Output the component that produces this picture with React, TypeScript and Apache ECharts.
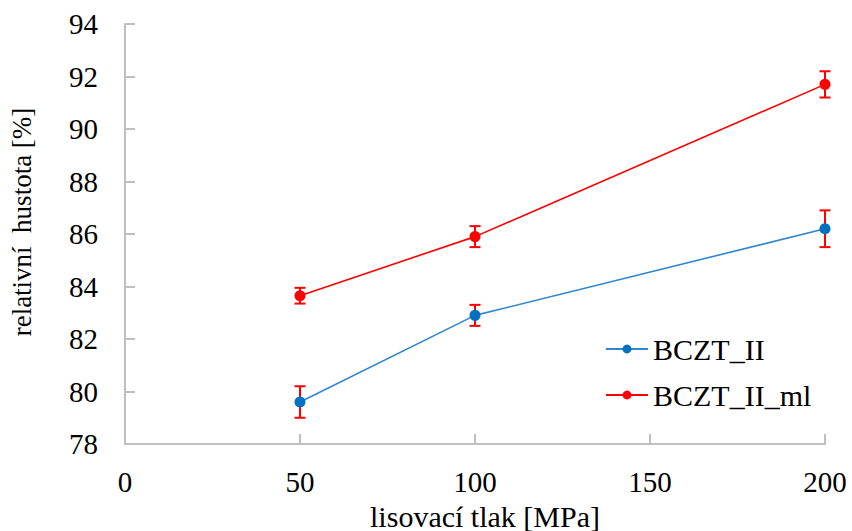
import React, { useEffect, useRef } from "react";
import * as echarts from "echarts";

const pressures = [50, 100, 200];
const bcztII = [79.6, 82.9, 86.2];
const bcztIIErr = [0.6, 0.4, 0.7];
const bcztIIml = [83.65, 85.9, 91.7];
const bcztIImlErr = [0.3, 0.4, 0.5];
const xTitle = "lisovací tlak [MPa]";
const yTitle = "relativní  hustota [%]";
const seriesNames = ["BCZT_II", "BCZT_II_ml"];

const FONT = "Liberation Serif";

function errData(vals: number[], errs: number[]) {
  return pressures.map((p, i) => [p, vals[i] - errs[i], vals[i] + errs[i]]);
}

export default function App() {
  const ref = useRef<HTMLDivElement>(null);
  useEffect(() => {
    if (!ref.current) return;
    const chart = echarts.init(ref.current, undefined, { renderer: "svg" });
    const renderErr = (params: any, api: any) => {
      const x = api.value(0);
      const lo = api.coord([x, api.value(1)]);
      const hi = api.coord([x, api.value(2)]);
      const w = 5.5;
      const style = { stroke: "#ff0000", lineWidth: 2 };
      return {
        type: "group",
        children: [
          { type: "line", shape: { x1: lo[0], y1: lo[1], x2: hi[0], y2: hi[1] }, style },
          { type: "line", shape: { x1: lo[0] - w, y1: lo[1], x2: lo[0] + w, y2: lo[1] }, style },
          { type: "line", shape: { x1: hi[0] - w, y1: hi[1], x2: hi[0] + w, y2: hi[1] }, style },
        ],
      };
    };
    const txt = { fontFamily: FONT, fontSize: 29, color: "#000" };
    chart.setOption({
      animation: false,
      backgroundColor: "#ffffff",
      textStyle: { fontFamily: FONT },
      grid: { left: 125, right: 27, top: 24, bottom: 87, containLabel: false, outerBoundsMode: "none" },
      graphic: [
        {
          type: "text",
          x: 22,
          y: 222,
          rotation: Math.PI / 2,
          style: {
            text: yTitle,
            fontFamily: FONT,
            fontSize: 27,
            fill: "#000",
            align: "center",
            verticalAlign: "middle",
          },
        },
      ],
      legend: {
        data: seriesNames,
        orient: "vertical",
        left: 600,
        top: 329,
        itemWidth: 42,
        itemHeight: 11,
        itemGap: 16,
        textStyle: { fontFamily: FONT, fontSize: 30, color: "#000" },
      },
      xAxis: {
        type: "value",
        min: 0,
        max: 200,
        interval: 50,
        name: xTitle,
        nameLocation: "middle",
        nameGap: 57,
        nameTextStyle: { fontFamily: FONT, fontSize: 30, color: "#000", padding: [0, 0, 0, 20] },
        axisLine: { show: true, lineStyle: { color: "#bfbfbf", width: 2 } },
        axisTick: { show: true, inside: true, length: 10, lineStyle: { color: "#bfbfbf", width: 2 } },
        axisLabel: { ...txt, margin: 23 },
        splitLine: { show: false },
      },
      yAxis: {
        type: "value",
        min: 78,
        max: 94,
        interval: 2,
        axisLine: { show: true, lineStyle: { color: "#bfbfbf", width: 2 } },
        axisTick: { show: true, inside: true, length: 10, lineStyle: { color: "#bfbfbf", width: 2 } },
        axisLabel: { ...txt, margin: 27 },
        splitLine: { show: false },
      },
      series: [
        {
          type: "custom",
          name: "errII",
          renderItem: renderErr,
          data: errData(bcztII, bcztIIErr),
          z: 1,
          silent: true,
        },
        {
          type: "custom",
          name: "errIIml",
          renderItem: renderErr,
          data: errData(bcztIIml, bcztIImlErr),
          z: 1,
          silent: true,
        },
        {
          type: "line",
          name: seriesNames[0],
          data: pressures.map((p, i) => [p, bcztII[i]]),
          symbol: "circle",
          symbolSize: 11,
          lineStyle: { color: "#2e86d0", width: 1.6 },
          itemStyle: { color: "#0070c0" },
          z: 3,
        },
        {
          type: "line",
          name: seriesNames[1],
          data: pressures.map((p, i) => [p, bcztIIml[i]]),
          symbol: "circle",
          symbolSize: 11,
          lineStyle: { color: "#ff0000", width: 1.6 },
          itemStyle: { color: "#ff0000" },
          z: 3,
        },
      ],
    });
    return () => chart.dispose();
  }, []);
  return (
    <div
      ref={ref}
      style={{ position: "absolute", left: 0, top: 0, width: 852, height: 531, background: "#fff" }}
    />
  );
}
